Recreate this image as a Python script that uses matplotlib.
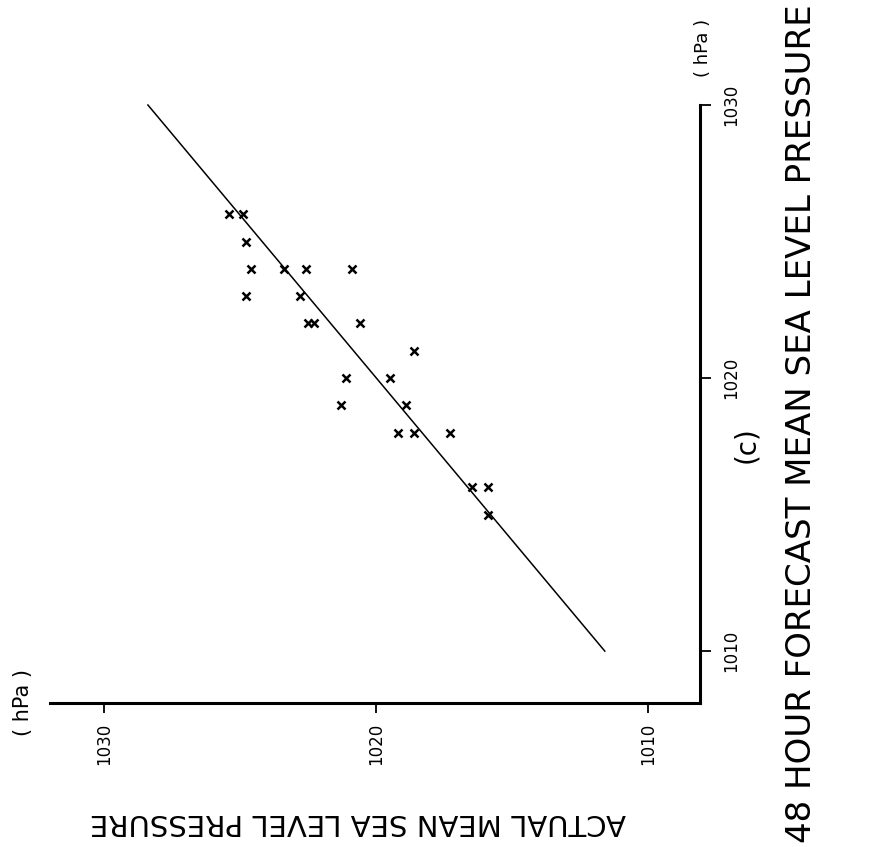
import matplotlib
matplotlib.use("Agg")
import matplotlib.pyplot as plt

# Valores (hPa)
pronostico = [1026, 1026, 1025, 1024, 1024, 1024, 1024, 1023, 1023, 1022, 1022, 1022,
              1021, 1020, 1020, 1019, 1019, 1018, 1018, 1018, 1016, 1016, 1015]
real = [1025.4, 1024.9, 1024.8, 1024.6, 1023.4, 1022.6, 1020.9, 1024.8, 1022.8, 1022.5,
        1022.3, 1020.6, 1018.6, 1021.1, 1019.5, 1021.3, 1018.9, 1019.2, 1018.6, 1017.3,
        1016.5, 1015.9, 1015.9]

# Recta de ajuste
recta_pronostico = [1010, 1030]
recta_real = [1011.6, 1028.4]

ticks = [1010, 1020, 1030]

W, H = 871, 847
fig = plt.figure(figsize=(W / 100, H / 100), dpi=100)
ax = fig.add_axes([50 / W, 1 - 703 / H, 650 / W, 598 / H])

# Eje horizontal = presion real (creciendo a la izquierda), vertical = pronostico
ax.plot(recta_real, recta_pronostico, color='black', lw=1.1, clip_on=False)
ax.plot(real, pronostico, linestyle='none', marker='x', color='black',
        markersize=5.5, markeredgewidth=1.8)

ax.set_xlim(1032.0, 1008.1)
ax.set_ylim(1008.1, 1030)

ax.spines['top'].set_visible(False)
ax.spines['left'].set_visible(False)
ax.spines['bottom'].set_linewidth(2.2)
ax.spines['right'].set_linewidth(2.2)

ax.yaxis.tick_right()
ax.set_xticks(ticks)
ax.set_yticks(ticks)
ax.tick_params(axis='x', direction='out', length=7, width=1.3, pad=7,
               labelsize=12, labelrotation=90)
ax.tick_params(axis='y', direction='out', length=8, width=1.3, pad=8,
               labelsize=12, labelrotation=90)
for lab in ax.get_yticklabels():
    lab.set_va('center')

fig.text(23 / W, 1 - 703 / H, '( hPa )', rotation=90, ha='center', va='center', fontsize=15)
fig.text(703 / W, 1 - 48 / H, '( hPa )', rotation=90, ha='center', va='center', fontsize=13)
fig.text(358 / W, 1 - 822 / H, 'ACTUAL MEAN SEA LEVEL PRESSURE', rotation=180,
         ha='center', va='center', fontsize=21)
fig.text(801 / W, 1 - 843 / H, '48 HOUR FORECAST MEAN SEA LEVEL PRESSURE', rotation=90,
         ha='center', va='bottom', fontsize=24.5)
fig.text(746 / W, 1 - 445 / H, '(c)', rotation=90, ha='center', va='center', fontsize=20)

fig.savefig('out.png', dpi=100)
